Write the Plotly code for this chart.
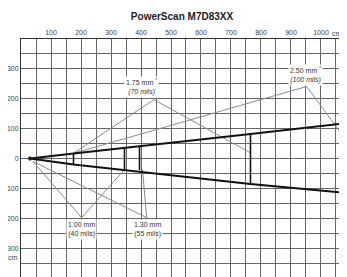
import plotly.graph_objects as go

# ---- data (cm) ----
beam_x = [30, 175, 765, 1090]
beam_upper = [0, 17, 82, 119]
beam_lower = [0, -20, -85, -116]

bar_x = [175, 345, 395, 765]
bar_top = [17, 36, 42, 82]
bar_bottom = [-20, -37, -39, -85]

label_main = ["1.75 mm <sup>*</sup>", "2.50 mm <sup>*</sup>", "1.00 mm", "1.30 mm"]
label_mils = ["<i>(70 mils)</i>", "<i>(100 mils)</i>", "(40 mils)", "(55 mils)"]
label_x = [400, 950, 203, 423]
label_y = [240, 280, -237, -237]
apex_x = [443, 952, 202, 419]
apex_y = [197, 241, -198, -198]
near_x = [174, 174, 40, 40]
near_y = [17, 17, -10, -10]
far_x = [765, 1100, 345, 405]
far_y = [19, 40, -37, -37]

x_ticks = [100, 200, 300, 400, 500, 600, 700, 800, 900, 1000]
x_ticktext = ["100", "200", "300", "400", "500", "600", "700", "800", "900", "1000"]
y_ticks = [300, 200, 100, 0, -100, -200, -300]
y_ticktext = ["300", "200", "100", "0", "100", "200", "300"]

FONT = "Liberation Sans, Arial"
# page has an 8px body margin; figure is sized to fill the rest of the window
W, H = 339, 269
ML, MT = 13, 31
PLOT_H = H - MT

fig = go.Figure()

# callout lines
for i in range(len(label_main)):
    fig.add_trace(go.Scatter(
        x=[near_x[i], apex_x[i], far_x[i]],
        y=[near_y[i], apex_y[i], far_y[i]],
        mode="lines", line=dict(color="#8a8a8a", width=1),
        hoverinfo="skip", showlegend=False))

# beams
fig.add_trace(go.Scatter(x=beam_x, y=beam_upper, mode="lines",
                         line=dict(color="#111", width=2), showlegend=False))
fig.add_trace(go.Scatter(x=beam_x, y=beam_lower, mode="lines",
                         line=dict(color="#111", width=2), showlegend=False))

# depth-of-field bars
bx, by = [], []
for x, t, b in zip(bar_x, bar_top, bar_bottom):
    bx += [x, x, None]
    by += [t, b, None]
fig.add_trace(go.Scatter(x=bx, y=by, mode="lines",
                         line=dict(color="#111", width=1.6), showlegend=False))

# scanner
fig.add_trace(go.Scatter(x=[beam_x[0]], y=[beam_upper[0]], mode="markers",
                         marker=dict(color="#222", size=4, symbol="diamond"),
                         showlegend=False))

for i in range(len(label_main)):
    fig.add_annotation(x=label_x[i], y=label_y[i],
                       text=label_main[i] + "<br>" + label_mils[i],
                       showarrow=False, bgcolor="white", borderpad=1,
                       font=dict(family=FONT, size=7, color="#333"))

fig.add_annotation(x=0.99, xref="paper", xanchor="right",
                   y=1 + 6 / PLOT_H, yref="paper", yanchor="middle",
                   text="cm", showarrow=False,
                   font=dict(family=FONT, size=7, color="#444"))
fig.add_annotation(x=-0.0245, xref="paper", xanchor="center",
                   y=-333, yref="y", yanchor="middle",
                   text="cm", showarrow=False,
                   font=dict(family=FONT, size=7, color="#444"))

fig.update_layout(
    width=W, height=H,
    margin=dict(l=ML, r=0, t=MT, b=0, pad=0, autoexpand=False),
    paper_bgcolor="white", plot_bgcolor="white",
    title=dict(text="<b>PowerScan M7D83XX</b>", xref="container", x=174 / W, xanchor="center",
               yref="container", y=1 - 8 / H, yanchor="middle",
               font=dict(family=FONT, size=10, color="#222")),
    showlegend=False,
)
fig.update_xaxes(range=[0, 1086.7], side="top", tickvals=x_ticks, ticktext=x_ticktext,
                 automargin=False, showgrid=False, zeroline=False,
                 minor=dict(dtick=50, tick0=0, showgrid=True, gridcolor="#666", gridwidth=1),
                 showline=True, linecolor="#333", linewidth=1, mirror=True,
                 ticks="", tickfont=dict(family=FONT, size=7, color="#444"))
fig.update_yaxes(range=[-396.7, 400], tickvals=y_ticks, ticktext=y_ticktext,
                 automargin=False, showgrid=False, zeroline=False,
                 minor=dict(dtick=50, tick0=0, showgrid=True, gridcolor="#666", gridwidth=1),
                 showline=True, linecolor="#333", linewidth=1, mirror=True,
                 ticks="", tickfont=dict(family=FONT, size=7, color="#444"))

fig.write_html("out.html")
